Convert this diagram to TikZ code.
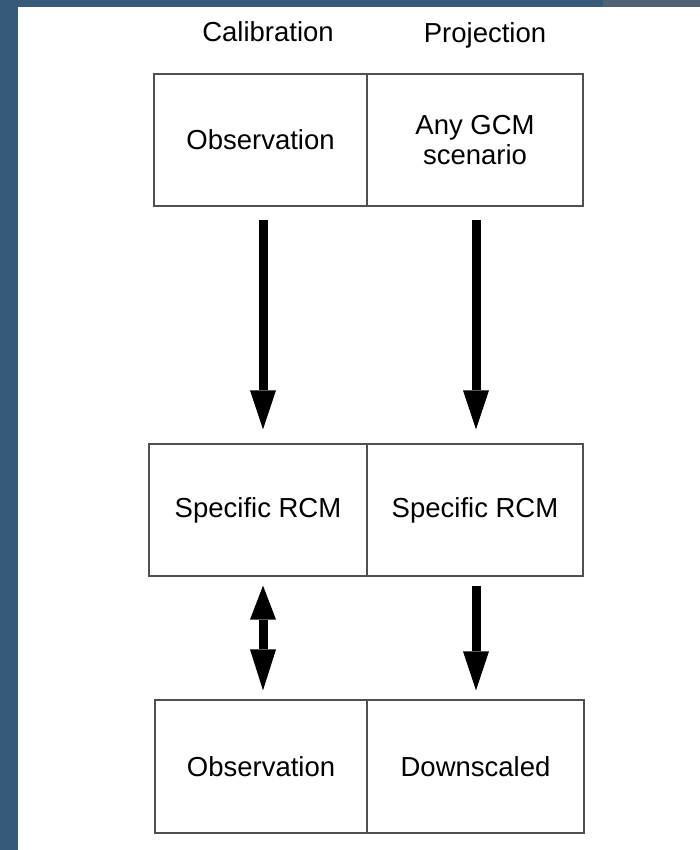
\documentclass[tikz,border=0pt]{standalone}
\usepackage{fontspec}
\setmainfont{Liberation Sans}
\usetikzlibrary{arrows.meta}
\definecolor{slate}{HTML}{375A7B}
\definecolor{slatedark}{HTML}{4F6173}
\definecolor{boxline}{HTML}{505050}
\tikzset{
  cell/.style={draw=boxline, line width=1.2pt, rectangle, inner sep=0pt,
    minimum height=132pt, align=center, font=\fontsize{27.5}{30}\selectfont},
  header/.style={anchor=base, inner sep=0pt, font=\fontsize{27.5}{30}\selectfont},
  bigarrow/.style={line width=9pt, -{Triangle[width=26pt, length=39pt, line width=0pt]}},
  twoway/.style={line width=9pt,
    {Triangle[width=26pt, length=34pt, line width=0pt]}-{Triangle[width=26pt, length=41pt, line width=0pt]}},
}
\begin{document}
\begin{tikzpicture}[x=1pt, y=-1pt]
  \useasboundingbox (0,0) rectangle (700,850);
  % frame strips
  \fill[white] (0,0) rectangle (700,850);
  \fill[slate] (0,0) rectangle (18,850);
  \fill[slate] (0,0) rectangle (700,7);
  \fill[slatedark] (603,0) rectangle (700,7);

  % column headers
  \node[header] (hcal) at (268,42) {Calibration};
  \node[header] (hproj) at (485,43) {Projection};

  % top row
  \node[cell, minimum width=213pt] (tl) at (260.5,140) {Observation};
  \node[cell, minimum width=216pt] (tr) at (475,140) {Any GCM\\scenario};
  % middle row
  \node[cell, minimum width=218pt] (ml) at (258,510) {Specific RCM};
  \node[cell, minimum width=216pt] (mr) at (475,510) {Specific RCM};
  % bottom row
  \node[cell, minimum width=212pt, minimum height=133pt] (bl) at (261,766.5) {Observation};
  \node[cell, minimum width=217pt, minimum height=133pt] (br) at (475.5,766.5) {Downscaled};

  % connectors
  \draw[bigarrow, shorten <=13pt, shorten >=14pt]
    ([xshift=2.5pt]tl.south) -- ([xshift=2.5pt]tl.south |- ml.north);
  \draw[bigarrow, shorten <=13pt, shorten >=14pt]
    ([xshift=1pt]tr.south) -- ([xshift=1pt]tr.south |- mr.north);
  \draw[twoway, shorten <=9pt, shorten >=9pt]
    ([xshift=5pt]ml.south) -- ([xshift=5pt]ml.south |- bl.north);
  \draw[bigarrow, shorten <=9pt, shorten >=9pt]
    ([xshift=1pt]mr.south) -- ([xshift=1pt]mr.south |- br.north);
\end{tikzpicture}
\end{document}
